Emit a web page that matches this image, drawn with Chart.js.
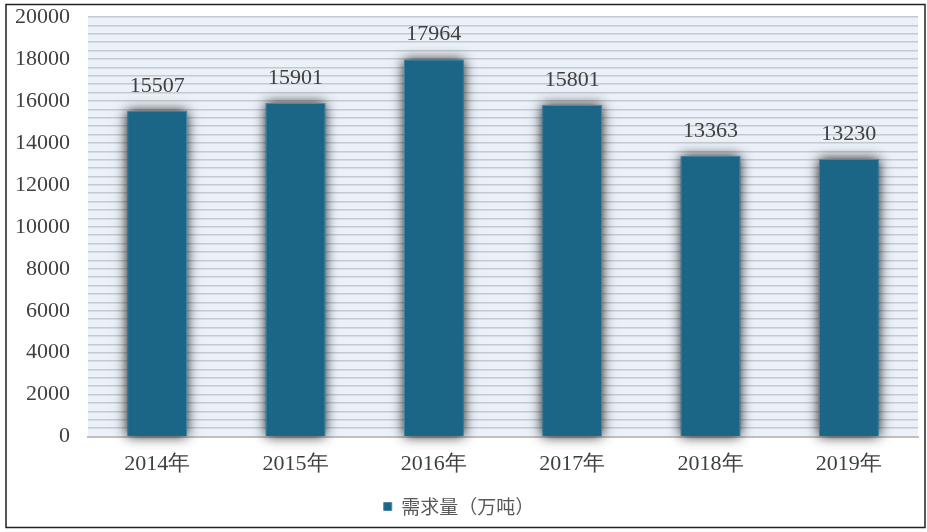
<!DOCTYPE html>
<html>
<head>
<meta charset="utf-8">
<script src="https://cdn.jsdelivr.net/npm/chart.js@4/dist/chart.umd.min.js"></script>
<style>
html,body{margin:0;padding:0;background:#fff;}
#wrap{width:927px;height:532px;position:relative;}
</style>
</head>
<body>
<div id="wrap"><canvas id="c" width="927" height="532"></canvas></div>
<script>
const categories = ['2014年','2015年','2016年','2017年','2018年','2019年'];
const demand = [15507, 15901, 17964, 15801, 13363, 13230];
const seriesName = '需求量（万吨）';
const yMax = 20000;
const yLabelStep = 2000;
const gridStep = 400;

const serif = '"Liberation Serif", "DejaVu Serif", serif';

const frame = {
  id: 'frame',
  beforeDraw(chart) {
    const {ctx, chartArea: a} = chart;
    ctx.save();
    ctx.fillStyle = '#fff';
    ctx.fillRect(0, 0, chart.width, chart.height);
    ctx.fillStyle = '#eaf1f8';
    ctx.fillRect(a.left, a.top, a.right - a.left, a.bottom - a.top);
    ctx.restore();
  },
  afterDraw(chart) {
    const ctx = chart.ctx;
    ctx.save();
    ctx.strokeStyle = '#222';
    ctx.lineWidth = 1.5;
    ctx.strokeRect(6, 4.5, 919, 523);
    ctx.restore();
  }
};

const shadow = {
  id: 'shadow',
  beforeDatasetsDraw(chart) {
    const ctx = chart.ctx;
    const meta = chart.getDatasetMeta(0);
    ctx.save();
    ctx.shadowColor = 'rgba(0,0,0,0.9)';
    ctx.shadowBlur = 12;
    ctx.fillStyle = '#1b6687';
    meta.data.forEach(bar => {
      const p = bar.getProps(['x', 'y', 'base', 'width'], true);
      ctx.fillRect(p.x - p.width / 2, p.y, p.width, p.base - p.y);
    });
    ctx.restore();
  }
};

const valueLabels = {
  id: 'valueLabels',
  afterDatasetsDraw(chart) {
    const ctx = chart.ctx;
    const meta = chart.getDatasetMeta(0);
    ctx.save();
    ctx.font = '22px ' + serif;
    ctx.fillStyle = '#404040';
    ctx.textAlign = 'center';
    ctx.textBaseline = 'bottom';
    meta.data.forEach((bar, i) => {
      ctx.fillText(String(chart.data.datasets[0].data[i]), bar.x, bar.y - 14);
    });
    ctx.restore();
  }
};

new Chart(document.getElementById('c'), {
  type: 'bar',
  data: {
    labels: categories,
    datasets: [{
      label: seriesName,
      data: demand,
      backgroundColor: '#1b6687',
      borderColor: '#4a8aa8',
      borderWidth: 1,
      categoryPercentage: 1.0,
      barPercentage: 0.43
    }]
  },
  options: {
    responsive: false,
    animation: false,
    devicePixelRatio: 1,
    layout: { padding: { top: 17, right: 9, bottom: 6, left: 0 } },
    plugins: {
      legend: {
        position: 'bottom',
        labels: {
          boxWidth: 8,
          boxHeight: 8,
          color: '#595959',
          font: { family: '"Noto Sans CJK SC", sans-serif', size: 19 },
          padding: 6
        }
      },
      tooltip: { enabled: false }
    },
    scales: {
      x: {
        grid: { display: false, drawTicks: false },
        border: { display: true, color: '#c0c0c0', width: 2 },
        ticks: {
          color: '#404040',
          padding: 14,
          font: { family: serif, size: 22 }
        }
      },
      y: {
        min: 0,
        max: yMax,
        afterFit(scale) { scale.width = 88; scale.paddingTop = 0; scale.paddingBottom = 0; },
        grid: { color: '#c6cacf', lineWidth: 1.5, drawTicks: false },
        border: { display: false },
        ticks: {
          stepSize: gridStep,
          autoSkip: false,
          padding: 18,
          color: '#404040',
          font: { family: serif, size: 22 },
          callback: v => (v % yLabelStep === 0 ? String(v) : '')
        }
      }
    }
  },
  plugins: [frame, shadow, valueLabels]
});
</script>
</body>
</html>
